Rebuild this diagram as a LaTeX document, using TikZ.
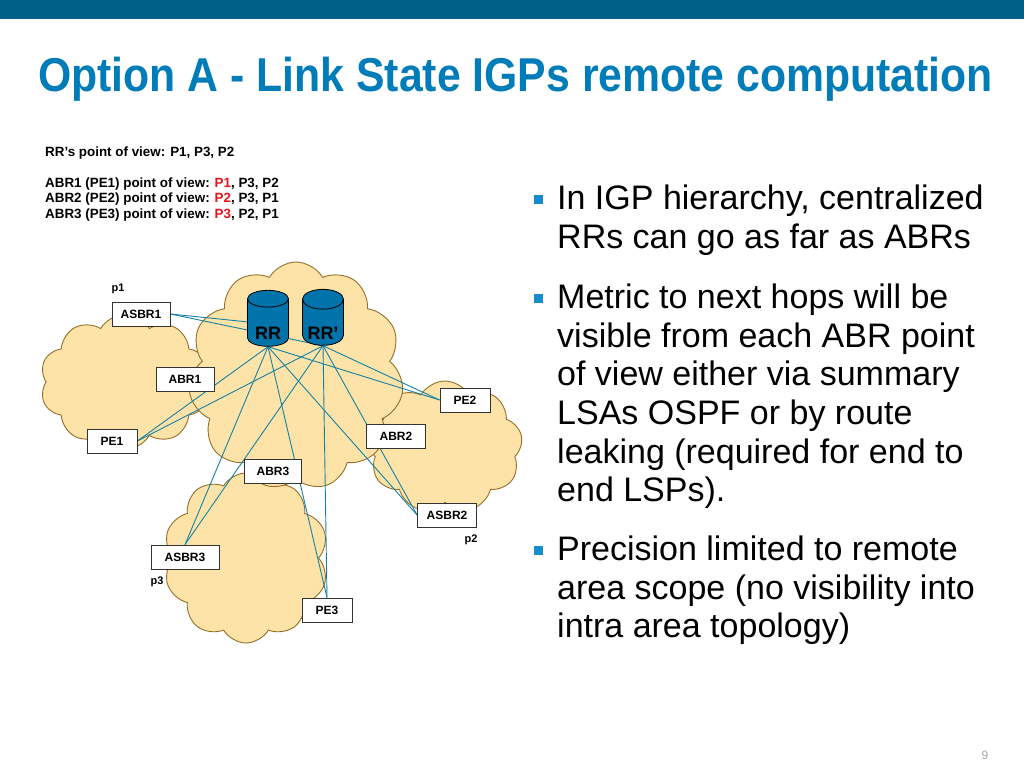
\documentclass[tikz,border=0pt]{standalone}
\usepackage{fontspec}
\setmainfont{Liberation Sans}
\usepackage{xcolor}
\usetikzlibrary{shapes.symbols,shapes.geometric}

\definecolor{barblue}{RGB}{0,96,135}
\definecolor{titleblue}{RGB}{0,125,185}
\definecolor{cloudfill}{RGB}{253,227,167}
\definecolor{cloudline}{RGB}{150,110,40}
\definecolor{wireblue}{RGB}{20,130,165}
\definecolor{rrblue}{RGB}{0,115,170}
\definecolor{dotblue}{RGB}{20,140,205}
\definecolor{viewred}{RGB}{230,20,30}

\pgfdeclarelayer{clouds}
\pgfdeclarelayer{wires}
\pgfsetlayers{clouds,wires,main}

\begin{document}
\begin{tikzpicture}[x=1pt,y=-1pt,
	area/.style={cloud,cloud puff arc=120,draw=cloudline,fill=cloudfill,line width=0.9pt,inner sep=0pt},
	box/.style={draw=black!80,fill=white,line width=0.8pt,minimum width=58pt,minimum height=24pt,inner sep=2pt,font=\bfseries\fontsize{12}{14}\selectfont},
	server/.style={cylinder,shape border rotate=90,aspect=0.6,draw=black,line width=0.8pt,fill=rrblue,minimum width=41pt,minimum height=56pt,inner sep=1pt,font=\bfseries\fontsize{18}{20}\selectfont},
	wire/.style={draw=wireblue,line width=0.9pt},
	view/.style={anchor=base west,inner sep=0pt,font=\bfseries\fontsize{13.4}{15}\selectfont},
	tag/.style={inner sep=0pt,font=\bfseries\fontsize{11}{13}\selectfont},
	dot/.style={fill=dotblue,minimum size=9pt,inner sep=0pt},
	point/.style={anchor=north west,align=left,inner sep=0pt,font=\fontsize{34}{38.7}\selectfont}]
	\useasboundingbox (0,0) rectangle (1024,768);
	\fill[barblue] (0,0) rectangle (1024,19);
	\node[anchor=base west,inner sep=0pt,text=titleblue,font=\bfseries\fontsize{47.5}{50}\selectfont] (title) at (38,91) {\scalebox{0.9}[1]{Option A - Link State IGPs remote computation}};

	% points of view
	\node[view] (vrr) at (45,156) {RR’s point of view: P1, P3, P2};
	\node[view] (v1) at (45,187) {ABR1 (PE1) point of view: \textcolor{viewred}{P1}, P3, P2};
	\node[view] (v2) at (45,202) {ABR2 (PE2) point of view: \textcolor{viewred}{P2}, P3, P1};
	\node[view] (v3) at (45,218) {ABR3 (PE3) point of view: \textcolor{viewred}{P3}, P2, P1};

	% areas
	\begin{pgfonlayer}{clouds}
		\node[area,cloud puffs=10,minimum width=170pt,minimum height=135pt] (p1) at (125,382) {};
		\node[area,cloud puffs=9,minimum width=155pt,minimum height=132pt] (p2) at (445,447) {};
		\node[area,cloud puffs=10,minimum width=165pt,minimum height=170pt] (p3) at (246,558) {};
		\node[area,cloud puffs=11,minimum width=215pt,minimum height=228pt] (p0) at (296,376) {};
	\end{pgfonlayer}

	\node[tag] (l1) at (118,289) {p1};
	\node[tag] (l2) at (471,540) {p2};
	\node[tag] (l3) at (157,582) {p3};

	% routers
	\node[server] (rr) at (268,324) {\raisebox{-15.5pt}[0pt][0pt]{RR}};
	\node[server] (rrp) at (323,324) {\raisebox{-15.5pt}[0pt][0pt]{RR’}};

	\node[box] (asbr1) at (141,314) {ASBR1};
	\node[box] (abr1) at (185,379) {ABR1};
	\node[box,minimum width=50pt] (pe1) at (112,441) {PE1};
	\node[box,minimum width=50pt] (pe2) at (465,400) {PE2};
	\node[box,minimum width=59pt] (abr2) at (396,436) {ABR2};
	\node[box,minimum width=57pt] (abr3) at (273,471) {ABR3};
	\node[box,minimum width=59pt] (asbr2) at (447,515) {ASBR2};
	\node[box,minimum width=68pt] (asbr3) at (185,557) {ASBR3};
	\node[box,minimum width=50pt] (pe3) at (327,610) {PE3};

	% sessions
	\begin{pgfonlayer}{wires}
		\path[wire] (asbr1.east) -- (rr.center);
		\path[wire] (asbr1.east) -- (rrp.south);
		\path[wire] (rr.south) -- (pe2.west);
		\path[wire] (rrp.south) -- (pe2.west);
		\path[wire] (rr.south) -- (pe1.east);
		\path[wire] (rrp.south) -- (pe1.east);
		\path[wire] (rr.south) -- (asbr3.north);
		\path[wire] (rrp.south) -- (asbr3.north);
		\path[wire] (rr.south) -- (pe3.north);
		\path[wire] (rrp.south) -- (pe3.north);
		\path[wire] (rr.south) -- (asbr2.west);
		\path[wire] (rrp.south) -- (asbr2.west);
	\end{pgfonlayer}

	% bullets
	\node[dot] (d1) at (538,199) {};
	\node[dot] (d2) at (538,298) {};
	\node[dot] (d3) at (538,550) {};
	\node[point] (t1) at (557,184.5) {In IGP hierarchy, centralized\\RRs can go as far as ABRs};
	\node[point] (t2) at (557,283.5) {Metric to next hops will be\\visible from each ABR point\\of view either via summary\\LSAs OSPF or by route\\leaking (required for end to\\end LSPs).};
	\node[point] (t3) at (557,535.5) {Precision limited to remote\\area scope (no visibility into\\intra area topology)};

	\node[text=black!35,font=\fontsize{12}{14}\selectfont] (page) at (985,755) {9};
\end{tikzpicture}
\end{document}
